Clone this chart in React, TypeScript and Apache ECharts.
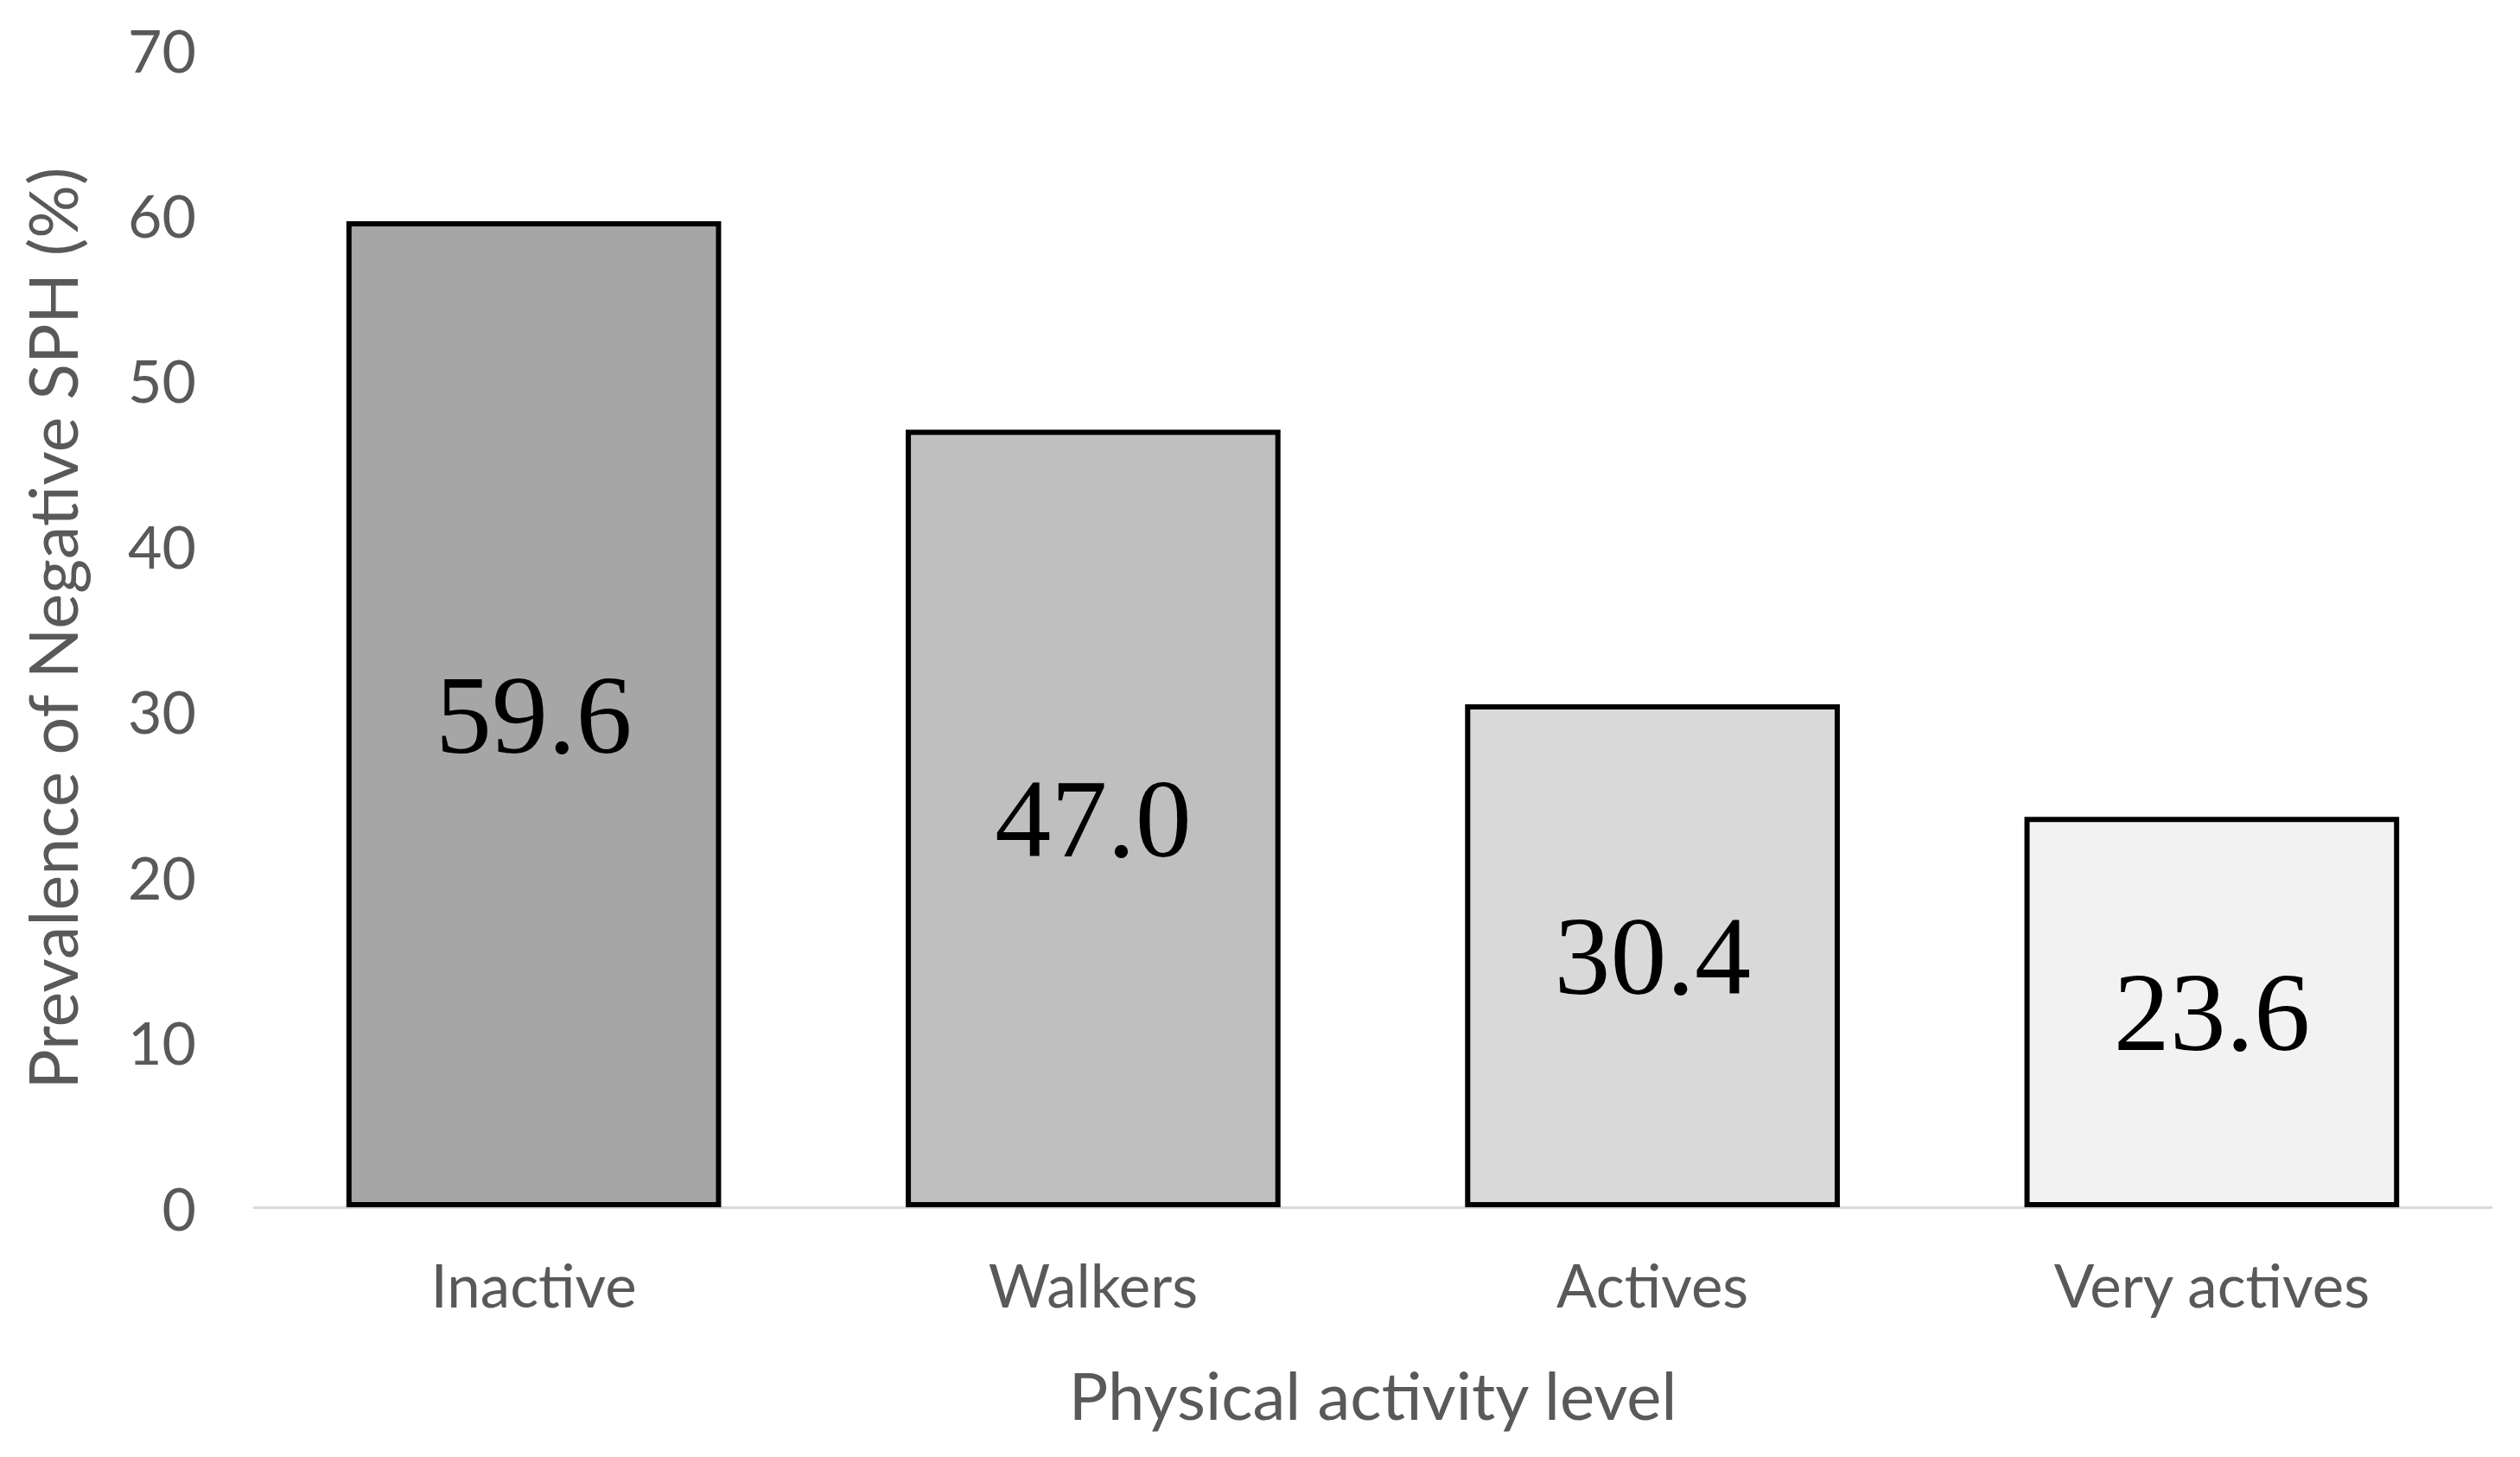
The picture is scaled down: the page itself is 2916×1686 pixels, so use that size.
import React, { useEffect, useRef } from "react";
import * as echarts from "echarts";

const categories = ["Inactive", "Walkers", "Actives", "Very actives"];
const prevalence = [59.6, 47.0, 30.4, 23.6];
const barColors = ["#a6a6a6", "#bfbfbf", "#d9d9d9", "#f2f2f2"];
const yTicks = { min: 0, max: 70, interval: 10 };

export default function App() {
  const ref = useRef<HTMLDivElement>(null);
  useEffect(() => {
    document.body.style.margin = "0";
    const chart = echarts.init(ref.current!, null, { renderer: "svg" });
    const sans = "Lato";
    chart.setOption({
      animation: false,
      backgroundColor: "#ffffff",
      grid: { left: 294, right: 33, top: 57, bottom: 289, containLabel: false },
      xAxis: {
        type: "category",
        data: categories,
        axisLine: { show: true, lineStyle: { color: "#d9d9d9", width: 3 } },
        axisTick: { show: false },
        axisLabel: { color: "#595959", fontFamily: sans, fontSize: 69, margin: 55 },
        name: "Physical activity level",
        nameLocation: "middle",
        nameGap: 178,
        nameTextStyle: { color: "#595959", fontFamily: sans, fontSize: 76 },
      },
      yAxis: {
        type: "value",
        min: yTicks.min,
        max: yTicks.max,
        interval: yTicks.interval,
        axisLine: { show: false },
        axisTick: { show: false },
        splitLine: { show: false },
        axisLabel: { color: "#595959", fontFamily: sans, fontSize: 68, margin: 67 },
        name: "Prevalence of Negative SPH (%)",
        nameLocation: "middle",
        nameGap: 196,
        nameTextStyle: { color: "#595959", fontFamily: sans, fontSize: 77 },
      },
      series: [
        {
          type: "bar",
          barCategoryGap: "33%",
          data: prevalence.map((v, i) => ({
            value: v,
            itemStyle: { color: barColors[i] },
          })),
          itemStyle: { borderColor: "#000000", borderWidth: 6 },
          label: {
            show: true,
            position: "inside",
            formatter: (p: any) => Number(p.value).toFixed(1),
            fontFamily: "Liberation Serif",
            fontSize: 130,
            color: "#000000",
          },
        },
      ],
    });
    return () => chart.dispose();
  }, []);
  return <div ref={ref} style={{ width: 2916, height: 1686 }} />;
}
